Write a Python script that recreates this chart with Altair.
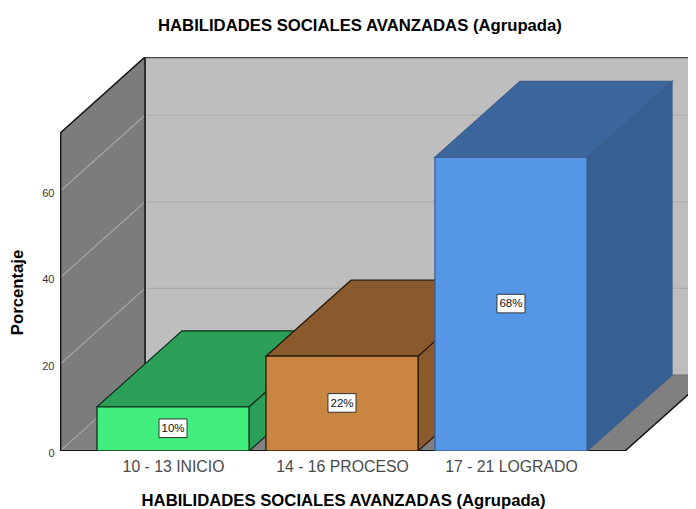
import altair as alt
import pandas as pd

categories = ["10 - 13 INICIO", "14 - 16 PROCESO", "17 - 21 LOGRADO"]
values = [10.2, 21.9, 67.8]
labels = ["10%", "22%", "68%"]
front_colors = ["#3FEE7C", "#C98640", "#5596E6"]
top_colors = ["#2CA058", "#8A5A2C", "#3C679D"]
side_colors = ["#2CA058", "#8A5A2C", "#365F92"]
edge_colors = ["#12301F", "#2A1C0E", "#3C5F8F"]
grid_values = [20, 40, 60]
tick_values = [0, 20, 40, 60]

XDOM = [-0.669, 3.0477]
YDOM = [0, 91]
HALF = 0.45
DX = 0.503
DY = 17.55
LEFT = XDOM[0]
FLOOR_RIGHT = 2.675
WALL_TOP = 73.4
FONT = "Liberation Sans"
TITLE = "HABILIDADES SOCIALES AVANZADAS (Agrupada)"

xs = alt.Scale(domain=XDOM, nice=False, zero=False)
ys = alt.Scale(domain=YDOM, nice=False, zero=False)
x_axis = alt.Axis(values=[0, 1, 2], domain=False, ticks=False, grid=False,
                  labelExpr="[" + ",".join(f"'{c}'" for c in categories) + "][datum.value]",
                  labelFont=FONT, labelFontSize=15.8, labelColor="#4A4A4A", labelPadding=8,
                  labelFlush=False, labelOverlap=False,
                  titleFont=FONT, titleFontSize=16.7, titleFontWeight="bold", titleColor="black",
                  titleX=283, titleY=54, titleAnchor="middle", titleBaseline="alphabetic")
y_axis = alt.Axis(values=tick_values, domain=False, ticks=False, grid=False,
                  labelFont=FONT, labelFontSize=11, labelColor="#333333", labelPadding=6, labelOffset=2,
                  titleFont=FONT, titleFontSize=16.7, titleFontWeight="bold", titleColor="black",
                  titleX=-34, titleY=235)


def X(field="x:Q"):
    return alt.X(field, scale=xs, title=TITLE, axis=x_axis)


def Y(field="y:Q"):
    return alt.Y(field, scale=ys, title="Porcentaje", axis=y_axis)


def area(pts, fill, stroke=None, sw=1.0):
    df = pd.DataFrame(pts, columns=["x", "y", "y2"])
    kw = dict(fill=fill, clip=True, interpolate="linear", opacity=1)
    if stroke:
        kw.update(stroke=stroke, strokeWidth=sw)
    return alt.Chart(df).mark_area(**kw).encode(x=X(), y=Y(), y2="y2:Q")


def line(pts, color, sw=1.0):
    df = pd.DataFrame(pts, columns=["x", "y"])
    return alt.Chart(df).mark_line(color=color, strokeWidth=sw, clip=True).encode(x=X(), y=Y())


layers = []

# Walls and floor
far = LEFT + DX
layers.append(area([[far, DY, YDOM[1]], [XDOM[1], DY, YDOM[1]]], "#BEBEBE"))
layers.append(area([[LEFT, 0, WALL_TOP], [far, DY, YDOM[1]]], "#7C7C7C"))
layers.append(area([[LEFT, 0, 0], [far, 0, DY], [FLOOR_RIGHT, 0, DY], [FLOOR_RIGHT + DX, DY, DY]], "#808080"))

for g in grid_values:
    layers.append(line([[far, g + DY], [XDOM[1], g + DY]], "#ADADAD", 1.2))
    layers.append(line([[LEFT, g], [far, g + DY]], "#A8A8A8", 1.2))
layers.append(line([[LEFT, 0], [far, DY]], "#B0B0B0", 1))

layers.append(line([[far, YDOM[1]], [far, DY]], "#2E2E2E", 2))
layers.append(line([[far, YDOM[1] - 0.05], [XDOM[1], YDOM[1] - 0.05]], "#444444", 2))
layers.append(line([[LEFT, WALL_TOP], [far, YDOM[1]]], "#111111", 1.5))
layers.append(line([[LEFT + 0.002, 0], [LEFT + 0.002, WALL_TOP]], "#111111", 2))
layers.append(line([[far, DY], [XDOM[1], DY]], "#707070", 1.2))
layers.append(line([[LEFT, 0], [FLOOR_RIGHT, 0]], "#111111", 2))
layers.append(line([[FLOOR_RIGHT, 0], [FLOOR_RIGHT + DX, DY]], "#111111", 1.5))

# Bars
for i, v in enumerate(values):
    l, r = i - HALF, i + HALF
    e = edge_colors[i]
    layers.append(area([[r, 0, v], [r + DX, DY, v + DY]], side_colors[i], e, 1.3))
    layers.append(area([[l, v, v], [l + DX, v, v + DY], [r, v, v + DY], [r + DX, v + DY, v + DY]],
                       top_colors[i], e, 1.3))
    layers.append(area([[l, 0, v], [r, 0, v]], front_colors[i], e, 1.3))

# Value labels in white boxes
lab = pd.DataFrame({
    "x": [i - 0.083 for i in range(3)], "x2": [i + 0.083 for i in range(3)],
    "xc": list(range(3)),
    "y": [v / 2 - 2.0 for v in values], "y2": [v / 2 + 2.3 for v in values],
    "yc": [v / 2 for v in values], "t": labels,
})
layers.append(alt.Chart(lab).mark_rect(fill="white", stroke="#333333", strokeWidth=1).encode(
    x=X(), x2="x2:Q", y=Y(), y2="y2:Q"))
layers.append(alt.Chart(lab).mark_text(font=FONT, fontSize=11.5, color="#111111", dy=0).encode(
    x=X("xc:Q"), y=Y("yc:Q"), text="t:N"))

chart = alt.layer(*layers).properties(
    width=628, height=394,
    padding={"left": 52, "top": 49, "right": 0, "bottom": 58},
    autosize=alt.AutoSizeParams(type="none"),
    title=alt.Title(TITLE, font=FONT, fontSize=16.7, fontWeight="bold", color="black",
                    anchor="start", frame="group", dx=98, offset=22),
).configure_view(stroke=None)

chart.save("out.html", embed_options={"renderer": "svg", "actions": False})
